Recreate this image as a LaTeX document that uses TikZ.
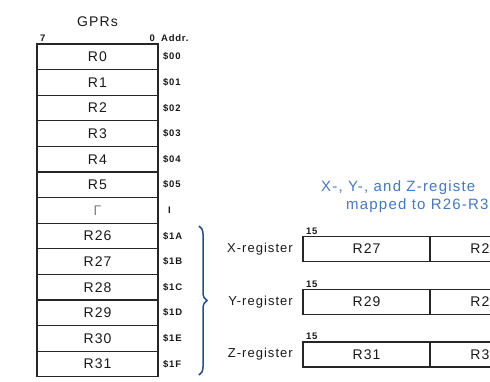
\documentclass[tikz,border=0pt]{standalone}
\usepackage{fontspec}
\setmainfont[LetterSpace=8]{Liberation Sans}
\usepackage{tikz}
\usetikzlibrary{positioning,decorations.pathreplacing}
\definecolor{bracecol}{RGB}{40,78,140}
\definecolor{notecol}{RGB}{70,120,190}

\begin{document}
\begin{tikzpicture}[x=1pt,y=-1pt,node distance=25.6pt]
 \tikzstyle{gpr}=[rectangle,draw=black!85,line width=1.3pt,outer sep=0pt,
   minimum width=121pt,minimum height=25.6pt,inner sep=0pt,
   font=\fontsize{14}{16}\selectfont,text=black!90]
 \tikzstyle{addr}=[inner sep=0pt,font=\bfseries\fontsize{9.5}{10}\selectfont,text=black!90]
 \tikzstyle{bitno}=[inner sep=0pt,font=\bfseries\fontsize{9.5}{10}\selectfont,text=black!90]
 \tikzstyle{xyzbox}=[gpr,minimum width=127pt,minimum height=25pt]
 \tikzstyle{reglabel}=[inner sep=0pt,font=\fontsize{13}{15}\selectfont,text=black!90]
 \tikzstyle{note}=[inner sep=0pt,font=\fontsize{15}{17}\selectfont,text=notecol]
 \useasboundingbox (0,0) rectangle (490,381);
 \clip (0,0) rectangle (490,381);
 % register file
 \node (r0) [gpr] at (97.5,56.8) {R0};
 \node (r1) [gpr,below of=r0] {R1};
 \node (r2) [gpr,below of=r1] {R2};
 \node (r3) [gpr,below of=r2] {R3};
 \node (r4) [gpr,below of=r3] {R4};
 \node (r5) [gpr,below of=r4] {R5};
 \node (rdots) [gpr,below of=r5,text=black!50,font=\fontsize{14}{16}\selectfont] {Γ};
 \node (r26) [gpr,below of=rdots] {R26};
 \node (r27) [gpr,below of=r26] {R27};
 \node (r28) [gpr,below of=r27] {R28};
 \node (r29) [gpr,below of=r28] {R29};
 \node (r30) [gpr,below of=r29] {R30};
 \node (r31) [gpr,below of=r30] {R31};
 \node (gprs) [inner sep=0pt,font=\fontsize{14}{16}\selectfont,text=black!90,above=17pt of r0] {GPRs};
 \node (msb) [bitno,above right=2pt and 3pt of r0.north west] {7};
 \node (lsb) [bitno,above left=2pt and 3pt of r0.north east] {0};
 \node (addrhead) [bitno,above right=2pt and 3pt of r0.north east] {Addr.};
 % addresses
 \node (a0) [addr,right=5pt of r0] {\$00};
 \node (a1) [addr,right=5pt of r1] {\$01};
 \node (a2) [addr,right=5pt of r2] {\$02};
 \node (a3) [addr,right=5pt of r3] {\$03};
 \node (a4) [addr,right=5pt of r4] {\$04};
 \node (a5) [addr,right=5pt of r5] {\$05};
 \node (adots) [addr,right=10pt of rdots] {I};
 \node (a26) [addr,right=5pt of r26] {\$1A};
 \node (a27) [addr,right=5pt of r27] {\$1B};
 \node (a28) [addr,right=5pt of r28] {\$1C};
 \node (a29) [addr,right=5pt of r29] {\$1D};
 \node (a30) [addr,right=5pt of r30] {\$1E};
 \node (a31) [addr,right=5pt of r31] {\$1F};
 % brace over R26-R31
 \coordinate (bt) at (199,226);
 \coordinate (bb) at (199,375);
 \draw[bracecol,line width=1.5pt,decorate,decoration={brace,amplitude=8pt}] (bt) -- (bb);
 % pointer registers
 \node (xlo) [xyzbox] at (366.5,249) {R27};
 \node (xhi) [xyzbox,minimum width=100pt,right=0pt of xlo] {R2};
 \node (ylo) [xyzbox,below of=xlo,node distance=53pt] {R29};
 \node (yhi) [xyzbox,minimum width=100pt,right=0pt of ylo] {R2};
 \node (zlo) [xyzbox,below of=ylo,node distance=52.5pt] {R31};
 \node (zhi) [xyzbox,minimum width=100pt,right=0pt of zlo] {R3};
 \node (xlab) [reglabel,left=10pt of xlo] {X-register};
 \node (ylab) [reglabel,left=10pt of ylo] {Y-register};
 \node (zlab) [reglabel,left=10pt of zlo] {Z-register};
 \node (x15) [bitno,above right=2pt and 3pt of xlo.north west] {15};
 \node (y15) [bitno,above right=2pt and 3pt of ylo.north west] {15};
 \node (z15) [bitno,above right=2pt and 3pt of zlo.north west] {15};
 \node (note1) [note,anchor=west] at (321,188) {X-, Y-, and Z-registe};
 \node (note2) [note,anchor=west] at (346,206) {mapped to R26-R3};
\end{tikzpicture}
\end{document}
